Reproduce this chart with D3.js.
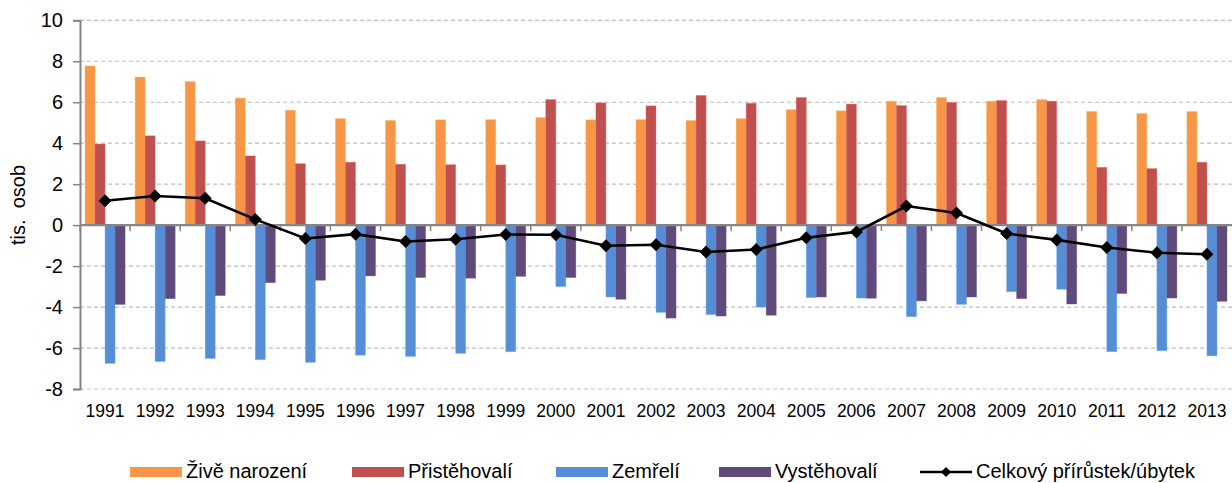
<!DOCTYPE html>
<html>
<head>
<meta charset="utf-8">
<script src="https://cdn.jsdelivr.net/npm/d3@7"></script>
<style>
  html, body { margin: 0; padding: 0; background: #fff; }
  svg { display: block; font-family: "Liberation Sans", Arial, sans-serif; }
</style>
</head>
<body>
<svg id="chart"></svg>
<script>
// data (tis. osob)
const years = ["1991","1992","1993","1994","1995","1996","1997","1998","1999","2000","2001","2002",
  "2003","2004","2005","2006","2007","2008","2009","2010","2011","2012","2013"];
const births = [7.77, 7.23, 7.01, 6.20, 5.61, 5.20, 5.11, 5.14, 5.15, 5.25, 5.14, 5.15,
  5.11, 5.20, 5.64, 5.58, 6.05, 6.23, 6.05, 6.13, 5.55, 5.45, 5.55];
const immigrants = [3.96, 4.36, 4.11, 3.38, 3.00, 3.07, 2.97, 2.95, 2.94, 6.13, 5.97, 5.82,
  6.33, 5.95, 6.23, 5.91, 5.84, 5.99, 6.08, 6.05, 2.82, 2.76, 3.07];
const deaths = [-6.75, -6.66, -6.51, -6.57, -6.70, -6.35, -6.41, -6.26, -6.18, -3.00, -3.51, -4.26,
  -4.37, -4.00, -3.54, -3.56, -4.47, -3.87, -3.25, -3.13, -6.18, -6.13, -6.38];
const emigrants = [-3.87, -3.59, -3.44, -2.81, -2.69, -2.48, -2.56, -2.59, -2.50, -2.56, -3.62, -4.54,
  -4.44, -4.40, -3.51, -3.57, -3.70, -3.51, -3.59, -3.85, -3.34, -3.56, -3.72];
const total = [1.19, 1.42, 1.31, 0.28, -0.65, -0.44, -0.80, -0.69, -0.46, -0.47, -1.01, -0.96,
  -1.31, -1.19, -0.62, -0.33, 0.93, 0.59, -0.41, -0.72, -1.09, -1.35, -1.42];
const yTicks = [-8, -6, -4, -2, 0, 2, 4, 6, 8, 10];

const series = [
  { name: "Živě narození", values: births, color: "#F79646" },
  { name: "Přistěhovalí", values: immigrants, color: "#C0504D" },
  { name: "Zemřelí", values: deaths, color: "#558ED5" },
  { name: "Vystěhovalí", values: emigrants, color: "#604A7B" }
];
const lineName = "Celkový přírůstek/úbytek";

// chart specs
const width = 1232, height = 483;
const plotLeft = 80, plotRight = 1232, plotTop = 20.3, plotBottom = 389;
const axisColor = "#868686", gridColor = "#BFBFBF";

const svg = d3.select("#chart").attr("width", width).attr("height", height);

const x = d3.scaleBand().domain(years).range([plotLeft, plotRight]).padding(0);
const xs = d3.scaleBand().domain(series.map(s => s.name))
  .range([0, x.bandwidth()]).paddingInner(0).paddingOuter(0.5);
const y = d3.scaleLinear().domain([-8, 10]).range([plotBottom, plotTop]);

// gridlines
svg.append("g")
  .selectAll("line")
  .data(yTicks.filter(t => t !== 0))
  .join("line")
  .attr("x1", plotLeft).attr("x2", plotRight)
  .attr("y1", d => y(d)).attr("y2", d => y(d))
  .attr("stroke", gridColor)
  .attr("stroke-width", 1.2)
  .attr("stroke-dasharray", "4,3");

// bars
const bars = svg.append("g");
series.forEach(s => {
  bars.append("g")
    .selectAll("rect")
    .data(s.values)
    .join("rect")
    .attr("x", (d, i) => x(years[i]) + xs(s.name))
    .attr("width", xs.bandwidth())
    .attr("y", d => Math.min(y(d), y(0)))
    .attr("height", d => Math.abs(y(d) - y(0)))
    .attr("fill", s.color)
    .attr("stroke", d3.color(s.color).brighter(0.6))
    .attr("stroke-opacity", 0.5)
    .attr("stroke-width", 0.8);
});

// y axis
const yAxis = svg.append("g")
  .attr("transform", `translate(${plotLeft},0)`)
  .call(d3.axisLeft(y).tickValues(yTicks).tickSize(7).tickPadding(10).tickFormat(d => String(d)));
yAxis.select(".domain").attr("stroke", axisColor).attr("stroke-width", 2);
yAxis.selectAll(".tick line").attr("stroke", axisColor).attr("stroke-width", 1.5);
yAxis.selectAll("text").attr("font-size", 20).attr("fill", "#000")
  .attr("font-family", "'Liberation Sans', Arial, sans-serif");

// x axis (at zero)
const xAxisG = svg.append("g").attr("transform", `translate(0,${y(0)})`);
xAxisG.append("line")
  .attr("x1", plotLeft).attr("x2", plotRight)
  .attr("stroke", axisColor).attr("stroke-width", 2.2);
xAxisG.selectAll(".xt")
  .data(years)
  .join("line")
  .attr("x1", d => x(d)).attr("x2", d => x(d))
  .attr("y1", 0).attr("y2", 6)
  .attr("stroke", axisColor).attr("stroke-width", 1.5);

// year labels below the plot
svg.append("g")
  .selectAll("text")
  .data(years)
  .join("text")
  .attr("x", d => x(d) + x.bandwidth() / 2)
  .attr("y", 417)
  .attr("text-anchor", "middle")
  .attr("font-size", 17.5)
  .attr("fill", "#000")
  .text(d => d);

// y title
svg.append("text")
  .attr("transform", "translate(25,205) rotate(-90)")
  .attr("text-anchor", "middle")
  .attr("font-size", 20)
  .attr("fill", "#000")
  .style("white-space", "pre")
  .text("tis.  osob");

// total line
const diamond = r => `M0,${-r}L${r},0L0,${r}L${-r},0Z`;
const lineGen = d3.line()
  .x((d, i) => x(years[i]) + x.bandwidth() / 2)
  .y(d => y(d));
svg.append("path")
  .datum(total)
  .attr("d", lineGen)
  .attr("fill", "none")
  .attr("stroke", "#000")
  .attr("stroke-width", 2.6);
svg.append("g")
  .selectAll("path")
  .data(total)
  .join("path")
  .attr("transform", (d, i) => `translate(${x(years[i]) + x.bandwidth() / 2},${y(d)})`)
  .attr("d", diamond(6.5))
  .attr("fill", "#000");

// legend
const legendX = [130, 352, 556, 719];
const legendY = 478;
const legend = svg.append("g");
series.forEach((s, i) => {
  legend.append("rect")
    .attr("x", legendX[i]).attr("y", legendY - 11)
    .attr("width", 52).attr("height", 10)
    .attr("fill", s.color);
  legend.append("text")
    .attr("x", legendX[i] + 56).attr("y", legendY)
    .attr("font-size", 20)
    .attr("fill", "#000")
    .text(s.name);
});
legend.append("line")
  .attr("x1", 920).attr("x2", 972)
  .attr("y1", legendY - 6).attr("y2", legendY - 6)
  .attr("stroke", "#000").attr("stroke-width", 2.6);
legend.append("path")
  .attr("transform", `translate(946,${legendY - 6})`)
  .attr("d", diamond(5))
  .attr("fill", "#000");
legend.append("text")
  .attr("x", 976).attr("y", legendY)
  .attr("font-size", 20)
  .attr("fill", "#000")
  .text(lineName);
</script>
</body>
</html>
